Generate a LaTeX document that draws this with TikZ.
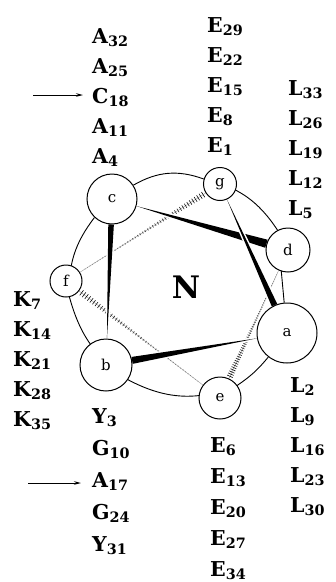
\documentclass[tikz,border=0pt]{standalone}
\usepackage{fontspec}
\setmainfont{DejaVu Serif}
\usetikzlibrary{calc, arrows.meta, backgrounds}

\begin{document}
\begin{tikzpicture}[x=1pt, y=-1pt,
    res/.style={anchor=base west, inner sep=0pt, font=\fontsize{20.5}{20.5}\selectfont\bfseries},
    wheel/.style={circle, draw, line width=1pt, fill=white, inner sep=0pt, font=\fontsize{15}{15}\selectfont},
    ring/.style={line width=0.9pt},
    hash/.style={line width=0.6pt},
    pointer/.style={line width=0.9pt, -{Stealth[length=7pt,width=3.5pt]}}]

    \useasboundingbox (0,0) rectangle (336,582);

    % ==========================================
    % POSIZIONI DELLA RUOTA (a ... g)
    % ==========================================
    \node[wheel, minimum size=50pt] (c) at (112,199) {c};
    \node[wheel, minimum size=33pt] (g) at (220,184) {g};
    \node[wheel, minimum size=44pt] (d) at (288,250) {d};
    \node[wheel, minimum size=60pt] (a) at (287,333) {a};
    \node[wheel, minimum size=42pt] (e) at (220,398) {e};
    \node[wheel, minimum size=52pt] (b) at (106,365) {b};
    \node[wheel, minimum size=32pt] (f) at (66,281) {f};

    % Etichetta N al centro
    \node[font=\fontsize{31}{31}\selectfont\bfseries] (N) at (186,287) {N};

    \begin{scope}[on background layer]
        % Anello esterno
        \draw[ring] (c) to[bend left=25] (g) to[bend left=22] (d) -- (a)
            to[bend left=8] (e) to[bend left=25] (b) to[bend left=20] (f)
            to[bend left=20] (c);

        % Legami tratteggiati (dietro)
        \foreach \s/\t in {d/e, e/f, f/g} {
            \path (\s) -- (\t) coordinate[pos=0] (p) coordinate[pos=1] (q);
            \draw[gray!80, line width=0.4pt] (p) -- (q);
            \foreach \k in {0.04,0.06,...,1} {
                \pgfmathsetmacro\hw{0.4+2.8*\k*\k}
                \pgfmathsetmacro\sh{45+55*\k}
                \draw[hash, black!\sh] ($(p)!\k!(q)!{\hw*1pt}!90:(q)$)
                    -- ($(p)!\k!(q)!{\hw*1pt}!-90:(q)$);
            }
        }

        % Legami pieni (davanti)
        \foreach \s/\t/\w in {a/b/3.5, b/c/2.8, c/d/4.2, g/a/3} {
            \path (\s) -- (\t) coordinate[pos=0] (p) coordinate[pos=1] (q);
            \filldraw[white, line width=3pt] (p) -- ($(q)!{\w*1pt}!90:(p)$)
                -- ($(q)!{\w*1pt}!-90:(p)$) -- cycle;
            \fill (p) -- ($(q)!{\w*1pt}!90:(p)$) -- ($(q)!{\w*1pt}!-90:(p)$) -- cycle;
        }
    \end{scope}

    % ==========================================
    % RESIDUI
    % ==========================================
    \foreach \l/\n [count=\i] in {A/32,A/25,C/18,A/11,A/4}
        \node[res] (r\n) at (92, 13+30*\i) {\l\textsubscript{\n}};
    \foreach \l/\n [count=\i] in {E/29,E/22,E/15,E/8,E/1}
        \node[res] (r\n) at (207, 2+30*\i) {\l\textsubscript{\n}};
    \foreach \l/\n [count=\i] in {L/33,L/26,L/19,L/12,L/5}
        \node[res] (r\n) at (288, 65+30*\i) {\l\textsubscript{\n}};
    \foreach \l/\n [count=\i] in {K/7,K/14,K/21,K/28,K/35}
        \node[res] (r\n) at (13, 276+30*\i) {\l\textsubscript{\n}};
    \foreach \l/\n [count=\i] in {Y/3,G/10,A/17,G/24,Y/31}
        \node[res] (r\n) at (92, 391+32*\i) {\l\textsubscript{\n}};
    \foreach \l/\n [count=\i] in {E/6,E/13,E/20,E/27,E/34}
        \node[res] (r\n) at (210, 421+31*\i) {\l\textsubscript{\n}};
    \foreach \l/\n [count=\i] in {L/2,L/9,L/16,L/23,L/30}
        \node[res] (r\n) at (290, 362+30*\i) {\l\textsubscript{\n}};

    % Frecce
    \coordinate (arrC) at (33,95);
    \draw[pointer, shorten >=9pt] (arrC) -- (arrC -| r18.west);
    \coordinate (arrA) at (28,483);
    \draw[pointer, shorten >=11pt] (arrA) -- (arrA -| r17.west);

\end{tikzpicture}
\end{document}
